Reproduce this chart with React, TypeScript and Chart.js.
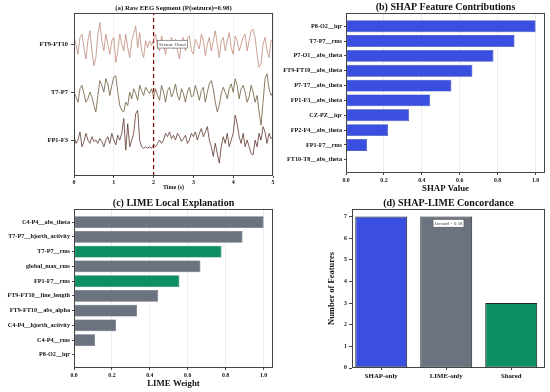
import React, { useEffect, useRef } from "react";
import { Chart, registerables } from "chart.js";
Chart.register(...registerables);

// ---------- DATA ----------
const P_SEIZURE = 0.98;
const ONSET_TIME = 2;
const EEG_TIME = Array.from({ length: 101 }, (_, i) => Math.round(i * 5) / 100);
const CHANNELS = ["FT9-FT10", "T7-P7", "FP1-F3"];
const CHANNEL_OFFSETS = [2, 1, 0];
const EEG_X_TICKS = [0, 1, 2, 3, 4, 5];

const FT9_FT10 = [
  0.14, 0, -0.21, 0.14, 0.21, -0.07, -0.31, 0.07, 0.28, -0.14,
  -0.45, -0.28, 0.21, 0.45, 0.07, -0.14, 0.21, 0, -0.21, 0.07,
  0.14, -0.38, -0.14, 0.21, 0, -0.14, 0.21, -0.07, -0.28, 0.07,
  0.21, 0.38, -0.07, 0.24, -0.14, -0.28, 0.07, -0.07, 0.07, -0.03,
  0.1, 0.21, -0.07, -0.14, 0.17, 0, -0.21, 0.07, -0.07, 0.14,
  -0.1, 0.1, -0.14, -0.31, 0.07, 0.14, -0.14, 0.14, 0.17, -0.14,
  -0.21, 0.1, 0, -0.1, 0.21, 0.07, -0.24, 0, 0.14, -0.14,
  0.07, 0.28, 0, -0.28, 0.07, 0.14, -0.14, 0.07, 0.24, -0.07,
  -0.21, 0.17, 0.07, -0.14, 0, 0.14, 0.21, -0.14, 0.07, 0.28,
  0.31, 0.14, -0.21, -0.48, -0.41, 0, 0.14, -0.14, -0.28, 0.07, 0.1,
];
const T7_P7 = [
  0, -0.1, -0.21, 0.07, 0.14, -0.03, -0.21, -0.14, 0, -0.1,
  -0.28, -0.41, -0.07, 0.24, 0.14, 0, 0.28, 0.17, -0.07, 0.14,
  0.31, 0.34, 0, -0.28, -0.38, -0.41, -0.21, -0.28, 0, -0.14,
  0.07, -0.03, -0.17, 0.14, 0.03, -0.07, 0.1, 0.03, -0.03, 0.07,
  -0.1, 0.07, -0.07, -0.17, 0.14, 0, -0.21, 0.03, 0.1, -0.1,
  0, 0.17, -0.07, -0.17, 0.07, -0.03, -0.21, 0, 0.1, -0.1,
  -0.07, 0.14, 0, -0.17, 0.03, 0.1, -0.21, 0, 0.17, 0.24,
  0.07, -0.21, -0.41, -0.28, -0.03, 0.1, 0, -0.14, 0.07, 0.17,
  0, 0.28, 0.14, -0.14, 0.07, 0.14, 0, -0.21, -0.1, 0.14,
  0, -0.21, -0.07, -0.41, -0.69, -0.21, 0.28, 0.38, 0.07, -0.07, 0,
];
const FP1_F3 = [
  0.07, -0.07, 0, 0.17, -0.14, -0.03, 0.14, 0, -0.07, 0.07,
  -0.03, 0, -0.07, 0.03, -0.03, -0.14, 0, 0.07, -0.07, 0.14,
  0, -0.1, 0.1, 0, 0.14, 0.45, -0.21, 0.34, -0.14, 0,
  0.14, 0.55, 0.62, 0, -0.14, -0.17, -0.14, -0.17, -0.14, -0.17,
  -0.1, -0.14, -0.07, 0, -0.07, 0, 0.14, 0.07, 0.17, 0.03,
  0.1, 0, 0.14, 0.07, -0.03, 0.03, 0.1, -0.07, 0, 0.14,
  0.07, 0.17, 0, 0.14, 0.24, 0.07, 0.17, 0.28, 0, -0.14,
  -0.34, -0.07, -0.28, -0.48, -0.14, 0.07, -0.07, 0.14, -0.14, 0,
  0.14, 0.52, 0.34, 0.07, -0.07, 0.14, -0.14, 0, -0.14, -0.28,
  -0.31, 0, -0.14, 0.14, 0, 0.28, 0.17, -0.07, 0.14, 0.03, 0.07,
];

const SHAP_FEATURES = [
  "P8-O2__iqr", "T7-P7__rms", "P7-O1__abs_theta", "FT9-FT10__abs_theta", "P7-T7__abs_theta",
  "FP1-F3__abs_theta", "CZ-PZ__iqr", "FP2-F4__abs_theta", "FP1-F7__rms", "FT10-T8__abs_theta",
];
const SHAP_VALUES = [1.0, 0.889, 0.778, 0.667, 0.556, 0.444, 0.333, 0.222, 0.111, 0.0];

const LIME_FEATURES = [
  "C4-P4__abs_theta", "T7-P7__hjorth_activity", "T7-P7__rms", "global_max_rms", "FP1-F7__rms",
  "FT9-FT10__line_length", "FT9-FT10__abs_alpha", "C4-P4__hjorth_activity", "C4-P4__rms", "P8-O2__iqr",
];
const LIME_VALUES = [1.0, 0.889, 0.778, 0.667, 0.556, 0.444, 0.333, 0.222, 0.111, 0.0];
const WEIGHT_TICKS = [0, 0.2, 0.4, 0.6, 0.8, 1.0];

const CONCORDANCE_LABELS = ["SHAP-only", "LIME-only", "Shared"];
const CONCORDANCE_COUNTS = [7, 7, 3];
const COUNT_TICKS = [0, 1, 2, 3, 4, 5, 6, 7];
const JACCARD = 0.18;

// ---------- STYLE ----------
const FAMILY = "'Liberation Serif', 'Times New Roman', 'DejaVu Serif', serif";
const font = (size: number) => ({ family: FAMILY, size, weight: "bold" as const, lineHeight: 1.2 });
const TEXT = "#111";
const FRAME = "#444";
const BLUE = "#3a4fe0";
const GRAY = "#6b7280";
const GREEN = "#0e8f62";
const TRACE_COLORS = ["#c08a7a", "#6d5a3b", "#5e382e"];

const framePlugin = {
  id: "frame",
  afterDraw(chart: any) {
    const { ctx, chartArea: a } = chart;
    ctx.save();
    ctx.strokeStyle = FRAME;
    ctx.lineWidth = 1;
    ctx.strokeRect(a.left + 0.5, a.top + 0.5, a.right - a.left - 1, a.bottom - a.top - 1);
    ctx.restore();
  },
};

const titlePlugin = (text: string, size: number, gap: number) => ({
  id: "ptitle",
  afterDraw(chart: any) {
    const { ctx, chartArea: a } = chart;
    ctx.save();
    ctx.font = `bold ${size}px ${FAMILY}`;
    ctx.fillStyle = TEXT;
    ctx.textAlign = "center";
    ctx.textBaseline = "middle";
    ctx.fillText(text, (a.left + a.right) / 2, a.top - gap);
    ctx.restore();
  },
});

const boxLabelPlugin = (text: string, size: number, getPos: (chart: any) => { x: number; y: number }, align: "left" | "center") => ({
  id: "boxlabel",
  afterDraw(chart: any) {
    const { ctx } = chart;
    const p = getPos(chart);
    ctx.save();
    ctx.font = `${size}px ${FAMILY}`;
    const w = ctx.measureText(text).width;
    const pad = 1.5;
    const bx = align === "left" ? p.x : p.x - w / 2 - pad;
    const bw = w + pad * 2;
    const bh = size + pad * 2;
    ctx.fillStyle = "#fff";
    ctx.strokeStyle = "#555";
    ctx.lineWidth = 0.6;
    ctx.fillRect(bx, p.y - bh / 2, bw, bh);
    ctx.strokeRect(bx, p.y - bh / 2, bw, bh);
    ctx.fillStyle = "#333";
    ctx.textAlign = "left";
    ctx.textBaseline = "middle";
    ctx.fillText(text, bx + pad, p.y + 0.5);
    ctx.restore();
  },
});

const W = 550;
const H = 392;

function box(L: number, T: number, R: number, B: number, yW: number, xH: number) {
  return { left: L - yW, top: T, right: W - R, bottom: H - B - xH };
}

export default function App() {
  const refA = useRef<HTMLCanvasElement>(null);
  const refB = useRef<HTMLCanvasElement>(null);
  const refC = useRef<HTMLCanvasElement>(null);
  const refD = useRef<HTMLCanvasElement>(null);

  useEffect(() => {
    document.body.style.margin = "0";
    const charts: Chart[] = [];
    const common = { responsive: false, animation: false as const, devicePixelRatio: 1 };
    const noPlug = { legend: { display: false }, tooltip: { enabled: false }, title: { display: false } };

    // (a) EEG
    const yAW = 70, xAH = 15;
    const A_MIN = -0.75, A_MAX = 2.65;
    const traces = [FT9_FT10, T7_P7, FP1_F3];
    charts.push(
      new Chart(refA.current!, {
        type: "line",
        data: {
          datasets: [
            ...traces.map((vals, c) => ({
              data: vals.map((v, i) => ({ x: EEG_TIME[i], y: v + CHANNEL_OFFSETS[c] })),
              borderColor: TRACE_COLORS[c],
              borderWidth: 0.8,
              pointRadius: 0,
              tension: 0,
            })),
            {
              data: [{ x: ONSET_TIME, y: A_MIN }, { x: ONSET_TIME, y: A_MAX }],
              borderColor: "#8b0000",
              borderWidth: 1.2,
              borderDash: [4, 3],
              pointRadius: 0,
            },
          ],
        },
        options: {
          ...common,
          layout: { padding: box(74, 13, 273, 176, yAW, xAH) },
          plugins: noPlug,
          scales: {
            x: {
              type: "linear", min: 0, max: 5, offset: false,
              afterBuildTicks: (s: any) => { s.ticks = EEG_X_TICKS.map((v) => ({ value: v })); },
              ticks: { font: font(6), color: TEXT, padding: 1 },
              grid: { color: "rgba(0,0,0,0.06)", tickColor: FRAME, tickLength: 2, offset: false },
              border: { display: false },
              title: { display: true, text: "Time (s)", font: font(6), color: TEXT, padding: 0 },
              afterFit: (s: any) => { s.height = xAH; },
            },
            y: {
              type: "linear", min: A_MIN, max: A_MAX,
              afterBuildTicks: (s: any) => { s.ticks = CHANNEL_OFFSETS.map((v) => ({ value: v })); },
              ticks: { font: font(6.5), color: TEXT, padding: 3, callback: (v: any) => CHANNELS[CHANNEL_OFFSETS.indexOf(v)] },
              grid: { drawOnChartArea: false, tickColor: FRAME, tickLength: 3 },
              border: { display: false },
              afterFit: (s: any) => { s.width = yAW; },
            },
          },
        },
        plugins: [
          framePlugin,
          titlePlugin(`(a) Raw EEG Segment (P(seizure)=${P_SEIZURE.toFixed(2)})`, 6.8, 5),
          boxLabelPlugin("Seizure Onset", 4.8, (ch) => ({
            x: ch.scales.x.getPixelForValue(ONSET_TIME + 0.1),
            y: ch.scales.y.getPixelForValue(CHANNEL_OFFSETS[0]),
          }), "left"),
        ],
      } as any)
    );

    // horizontal bar helper
    const hbar = (
      canvas: HTMLCanvasElement, labels: string[], values: number[], colors: string[], borders: string[],
      L: number, T: number, R: number, B: number, yW: number, xH: number, xTitle: string, title: string
    ) =>
      new Chart(canvas, {
        type: "bar",
        data: {
          datasets: [{
            data: values.map((v, i) => ({ x: v, y: i })),
            backgroundColor: colors,
            borderColor: borders,
            borderWidth: 0.6,
            borderSkipped: false,
            barPercentage: 0.8,
            categoryPercentage: 1,
          }],
        },
        options: {
          ...common,
          indexAxis: "y",
          layout: { padding: box(L, T, R, B, yW, xH) },
          plugins: noPlug,
          scales: {
            x: {
              type: "linear", min: 0, max: 1.05, offset: false,
              afterBuildTicks: (s: any) => { s.ticks = WEIGHT_TICKS.map((v) => ({ value: v })); },
              ticks: { font: font(5.8), color: TEXT, padding: 2, callback: (v: any) => Number(v).toFixed(1) },
              grid: { color: "rgba(0,0,0,0.07)", tickColor: FRAME, tickLength: 2, offset: false },
              border: { display: false },
              title: { display: true, text: xTitle, font: font(8.8), color: TEXT, padding: 0 },
              afterFit: (s: any) => { s.height = xH; },
            },
            y: {
              type: "linear", min: -0.89, max: 9.89, reverse: true, offset: false,
              afterBuildTicks: (s: any) => { s.ticks = labels.map((_, i) => ({ value: i })); },
              ticks: { font: font(6.2), color: TEXT, padding: 2, autoSkip: false, callback: (v: any) => labels[v] },
              grid: { drawOnChartArea: false, tickColor: FRAME, tickLength: 2, offset: false },
              border: { display: false },
              afterFit: (s: any) => { s.width = yW; },
            },
          },
        },
        plugins: [framePlugin, titlePlugin(title, 10, 6)],
      } as any);

    charts.push(
      hbar(refB.current!, SHAP_FEATURES, SHAP_VALUES,
        SHAP_FEATURES.map(() => BLUE), SHAP_FEATURES.map(() => "#2a39a8"),
        346, 13, 545, 173, 100, 21, "SHAP Value", "(b) SHAP Feature Contributions")
    );

    const shared = new Set(LIME_FEATURES.filter((f) => SHAP_FEATURES.includes(f)));
    charts.push(
      hbar(refC.current!, LIME_FEATURES, LIME_VALUES,
        LIME_FEATURES.map((f) => (shared.has(f) ? GREEN : GRAY)),
        LIME_FEATURES.map((f) => (shared.has(f) ? "#0a6a48" : "#4b5060")),
        74, 209, 273, 368, 74, 21, "LIME Weight", "(c) LIME Local Explanation")
    );

    // (d) concordance
    const yDW = 25, xDH = 15;
    charts.push(
      new Chart(refD.current!, {
        type: "bar",
        data: {
          datasets: [{
            data: CONCORDANCE_COUNTS.map((v, i) => ({ x: i, y: v })),
            backgroundColor: [BLUE, GRAY, GREEN],
            borderColor: "#222",
            borderWidth: 1,
            borderSkipped: false,
            barPercentage: 0.8,
            categoryPercentage: 1,
          }],
        },
        options: {
          ...common,
          layout: { padding: box(352, 209, 545, 368, yDW, xDH) },
          plugins: noPlug,
          scales: {
            x: {
              type: "linear", min: -0.45, max: 2.52, offset: false,
              afterBuildTicks: (s: any) => { s.ticks = CONCORDANCE_LABELS.map((_, i) => ({ value: i })); },
              ticks: { font: font(6.8), color: TEXT, padding: 2, callback: (v: any) => CONCORDANCE_LABELS[v] },
              grid: { drawOnChartArea: false, tickColor: FRAME, tickLength: 2, offset: false },
              border: { display: false },
              afterFit: (s: any) => { s.height = xDH; },
            },
            y: {
              type: "linear", min: 0, max: 7.35, offset: false,
              afterBuildTicks: (s: any) => { s.ticks = COUNT_TICKS.map((v) => ({ value: v })); },
              ticks: { font: font(5.8), color: TEXT, padding: 2 },
              grid: { drawOnChartArea: false, tickColor: FRAME, tickLength: 3, offset: false },
              border: { display: false },
              title: { display: true, text: "Number of Features", font: font(8.5), color: TEXT, padding: 0 },
              afterFit: (s: any) => { s.width = yDW; },
            },
          },
        },
        plugins: [
          framePlugin,
          titlePlugin("(d) SHAP-LIME Concordance", 10, 6),
          boxLabelPlugin(`Jaccard = ${JACCARD.toFixed(2)}`, 4.8, (ch) => ({
            x: (ch.chartArea.left + ch.chartArea.right) / 2,
            y: ch.chartArea.top + 0.09 * (ch.chartArea.bottom - ch.chartArea.top),
          }), "center"),
        ],
      } as any)
    );

    return () => charts.forEach((c) => c.destroy());
  }, []);

  const cs: React.CSSProperties = { position: "absolute", left: 0, top: 0 };
  return (
    <div style={{ position: "relative", width: W, height: H, background: "#fff" }}>
      <canvas ref={refA} width={W} height={H} style={cs} />
      <canvas ref={refB} width={W} height={H} style={cs} />
      <canvas ref={refC} width={W} height={H} style={cs} />
      <canvas ref={refD} width={W} height={H} style={cs} />
    </div>
  );
}
